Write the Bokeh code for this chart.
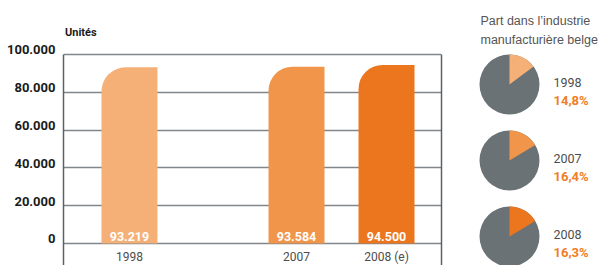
from math import pi
from bokeh.plotting import figure
from bokeh.models import (FactorRange, Range1d, FixedTicker, ColumnDataSource,
                          LinearAxis)
from bokeh.layouts import row
from bokeh.transform import dodge
from bokeh.embed import file_html
from bokeh.resources import INLINE
from bokeh.core.properties import value

# ---------------- data ----------------
years = ["1998", "2007", "2008 (e)"]
units = [93219, 93584, 94500]
unit_labels = ["93.219", "93.584", "94.500"]
bar_colors = ["#F5B077", "#F0954A", "#EC761E"]
y_ticks = [0, 20000, 40000, 60000, 80000, 100000]
y_tick_labels = ["0", "20.000", "40.000", "60.000", "80.000", "100.000"]

share_years = ["1998", "2007", "2008"]
share_pct = [14.8, 16.4, 16.3]
share_labels = ["14,8%", "16,4%", "16,3%"]

# ---------------- bar chart ----------------
DIN = "Roboto"
factors = [("a", years[0]), ("b", years[1]), ("b", years[2])]
xr = FactorRange(factors=factors, group_padding=0.856, factor_padding=0,
                 range_padding=0.172, range_padding_units="absolute")

px = 100000 / 189.0          # data units per pixel
y0 = -22 * px
yr = Range1d(start=y0, end=100000 + 54 * px)

p = figure(width=450, height=265, x_range=xr, y_range=yr,
           output_backend="svg", toolbar_location=None, title=None,
           x_axis_location=None, y_axis_location=None,
           min_border_left=63, min_border_right=9, min_border_top=0,
           min_border_bottom=0)
p.outline_line_color = None
p.xgrid.visible = False
p.ygrid.ticker = FixedTicker(ticks=y_ticks)
p.ygrid.grid_line_color = "#80868a"
p.ygrid.grid_line_width = 1.3

AX = "#5b6165"
def line_axis():
    return LinearAxis(ticker=FixedTicker(ticks=[]), bounds=(y0, 100000),
                      major_tick_in=0, major_tick_out=0, minor_tick_in=0,
                      minor_tick_out=0, major_label_standoff=0,
                      major_label_text_font_size="0px",
                      axis_line_color=AX, axis_line_width=1.5)

p.add_layout(line_axis(), "left")
off = 2400
lab_axis = LinearAxis(ticker=FixedTicker(ticks=[t + off for t in y_ticks]),
                      major_label_overrides={t + off: l for t, l in zip(y_ticks, y_tick_labels)},
                      major_tick_in=0, major_tick_out=0, minor_tick_in=0,
                      minor_tick_out=0, major_label_standoff=8,
                      major_label_text_font=DIN, major_label_text_font_style="bold",
                      major_label_text_font_size="13px",
                      major_label_text_color="#1a1a1a", axis_line_color=None)
p.add_layout(lab_axis, "left")
p.add_layout(line_axis(), "right")

shift = 0.061
src = ColumnDataSource(dict(x=factors, units=units, lab=unit_labels,
                            color=bar_colors, year=years))
xd = dodge("x", shift, range=xr)
p.vbar(x=xd, top="units", bottom=0, width=0.622, fill_color="color",
       line_color=None, border_radius=(24, 0, 0, 0), source=src)

p.text(x=xd, y=7 * px, text="lab", source=src, text_color="white",
       text_font=value(DIN), text_font_style="bold", text_font_size="12.5px",
       text_align="center", text_baseline="alphabetic")
p.text(x=xd, y=-13 * px, text="year", source=src, text_color="#4d4d4d",
       text_font=value(DIN), text_font_size="12px",
       text_align="center", text_baseline="alphabetic")

# axis unit caption, left-aligned on the axis line
p.text(x=[factors[0]], y=[(243 - 32) * px], text=["Unités"], x_offset=-59,
       text_color="#1a1a1a", text_font=value(DIN), text_font_style="bold",
       text_font_size="11px", text_baseline="alphabetic")

# ---------------- pies ----------------
p2 = figure(width=148, height=265, x_range=Range1d(0, 148), y_range=Range1d(0, 265),
            output_backend="svg", toolbar_location=None, title=None,
            x_axis_location=None, y_axis_location=None,
            min_border=0, min_border_left=0, min_border_right=0,
            min_border_top=0, min_border_bottom=0)
p2.grid.visible = False
p2.outline_line_color = None

pie_x = [59] * 3
pie_y = [181 - 76 * i for i in range(3)]
start = [pi / 2 - 2 * pi * v / 100 for v in share_pct]
src2 = ColumnDataSource(dict(x=pie_x, y=pie_y, start=start, color=bar_colors,
                             year=share_years, lab=share_labels,
                             ty=[y + 2 for y in pie_y], ly=[y - 15.5 for y in pie_y]))
p2.circle(x="x", y="y", radius=30, radius_units="screen", fill_color="#6b7275",
          line_color=None, source=src2)
p2.wedge(x="x", y="y", radius=30, radius_units="screen", start_angle="start",
         end_angle=pi / 2, fill_color="color", line_color=None, source=src2)
p2.text(x=103, y="ty", text="year", source=src2, text_color="#4d4d4d",
        text_font=value(DIN), text_font_size="12.5px", text_baseline="alphabetic")
p2.text(x=103, y="ly", text="lab", source=src2, text_color="#F07E26",
        text_font=value(DIN), text_font_style="bold", text_font_size="13px",
        text_baseline="alphabetic")

p2.text(x=[30, 30], y=[245, 226],
        text=["Part dans l’industrie", "manufacturière belge"],
        text_color="#555555", text_font=value("Liberation Sans"),
        text_font_size="12.5px", text_baseline="alphabetic")

layout = row(p, p2)
open("out.html", "w").write(file_html(layout, INLINE))
